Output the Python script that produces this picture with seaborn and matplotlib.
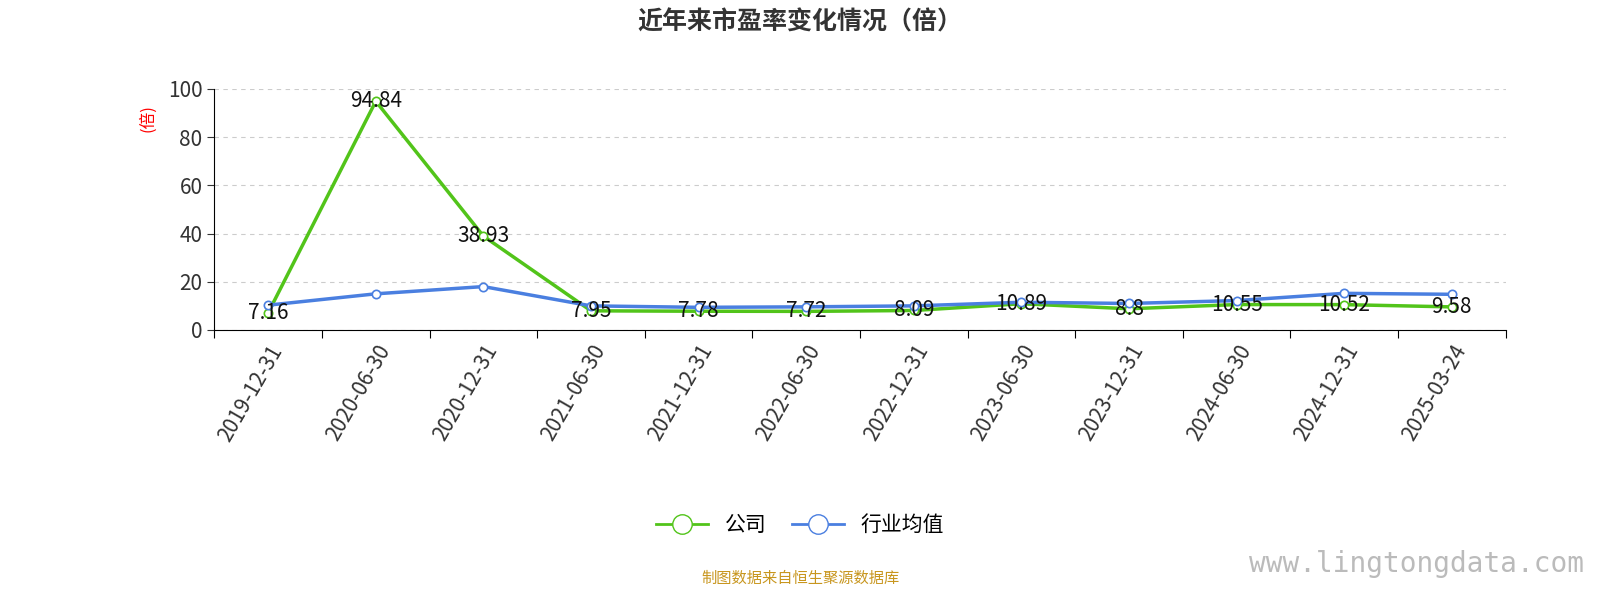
import numpy as np
import pandas as pd
import seaborn as sns
import matplotlib.pyplot as plt
from matplotlib.lines import Line2D

plt.rcParams["font.family"] = ["Noto Sans CJK SC", "DejaVu Sans"]

dates = ["2019-12-31", "2020-06-30", "2020-12-31", "2021-06-30", "2021-12-31", "2022-06-30",
         "2022-12-31", "2023-06-30", "2023-12-31", "2024-06-30", "2024-12-31", "2025-03-24"]
company = [7.16, 94.84, 38.93, 7.95, 7.78, 7.72, 8.09, 10.89, 8.8, 10.55, 10.52, 9.58]
industry = [10.3, 15.0, 18.0, 10.0, 9.4, 9.6, 10.0, 11.5, 11.0, 12.2, 15.2, 14.8]

green = "#52c41a"
blue = "#4a7fe0"

df = pd.DataFrame({"x": np.arange(len(dates)), "公司": company, "行业均值": industry})

fig = plt.figure(figsize=(16, 6), dpi=100)
ax = fig.add_axes([0.134, 0.45, 0.807, 0.402])

for col, c in [("公司", green), ("行业均值", blue)]:
    sns.lineplot(data=df, x="x", y=col, ax=ax, color=c, linewidth=2.5, marker="o",
                 markersize=6, markerfacecolor="white", markeredgecolor=c, markeredgewidth=1.2)

for i, v in enumerate(company):
    ax.text(i, v, f"{v:g}", ha="center", va="center", fontsize=15, color="#111111")

ax.set_xlim(-0.5, len(dates) - 0.5)
ax.set_ylim(0, 100)
ax.set_yticks([0, 20, 40, 60, 80, 100])
ax.tick_params(axis="y", labelsize=15, colors="#333333", length=5)
ax.set_xticks(np.arange(-0.5, len(dates), 1), minor=False)
ax.set_xticklabels([""] * (len(dates) + 1))
ax.set_xticks(np.arange(len(dates)), minor=True)
ax.set_xticklabels(dates, minor=True, rotation=60, ha="right", rotation_mode="anchor",
                   fontsize=15, color="#333333")
ax.tick_params(axis="x", which="major", length=6)
ax.tick_params(axis="x", which="minor", length=0, pad=8)
ax.grid(axis="y", linestyle=(0, (4, 4)), color="#cccccc")
ax.set_axisbelow(True)
for s in ["top", "right"]:
    ax.spines[s].set_visible(False)
ax.set_xlabel("")
ax.set_ylabel("(倍)", color="red", fontsize=12)
ax.yaxis.set_label_coords(-0.045, 0.88)

fig.text(0.5, 0.962, "近年来市盈率变化情况（倍）", ha="center", va="center", fontsize=18,
         fontweight="bold", color="#333333")

handles = [Line2D([], [], color=green, lw=2, marker="o", markersize=14, markerfacecolor="white"),
           Line2D([], [], color=blue, lw=2, marker="o", markersize=14, markerfacecolor="white")]
fig.legend(handles, ["公司", "行业均值"], loc="center", bbox_to_anchor=(0.5, 0.125), ncol=2,
           frameon=False, fontsize=15, handlelength=2.5, columnspacing=1.2)

fig.text(0.5, 0.037, "制图数据来自恒生聚源数据库", ha="center", va="center", fontsize=11, color="#c8961e")
fig.text(0.99, 0.06, "www.lingtongdata.com", ha="right", va="center", fontsize=20,
         color="#bbbbbb", family="DejaVu Sans Mono")

fig.savefig("out.png", dpi=100)
